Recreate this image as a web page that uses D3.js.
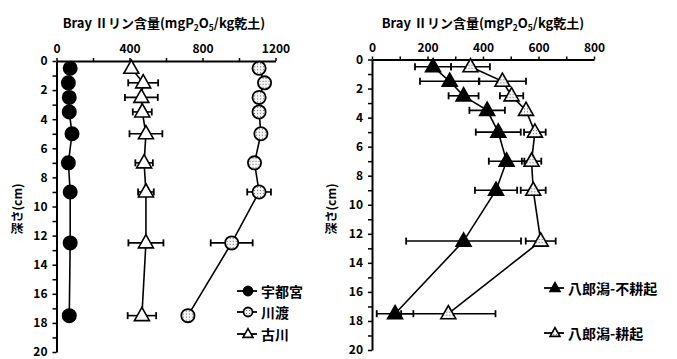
<!DOCTYPE html>
<html>
<head>
<meta charset="utf-8">
<script src="https://cdn.jsdelivr.net/npm/d3@7/dist/d3.min.js"></script>
<style>
  html, body { margin: 0; padding: 0; background: #fff; }
  svg { display: block; }
  text { font-family: "Noto Sans CJK JP", "Noto Sans", sans-serif; font-weight: 700; fill: #000; }
</style>
</head>
<body>
<svg id="chart" width="677" height="359"></svg>
<script>
// Soil depth of each sampling layer (cm)
const depths = [0.5, 1.5, 2.5, 3.5, 5, 7, 9, 12.5, 17.5];

// Left panel: Bray II phosphorus (mg P2O5 / kg dry soil)
const utsunomiya    = [75, 65, 70, 70, 85, 65, 75, 75, 70];
const utsunomiyaErr = [0, 0, 0, 0, 0, 0, 0, 0, 0];
const kawatabi      = [1110, 1140, 1110, 1110, 1120, 1085, 1110, 960, 720];
const kawatabiErr   = [0, 0, 0, 0, 0, 0, 65, 115, 0];
const furukawa      = [410, 475, 465, 470, 490, 480, 490, 490, 468];
const furukawaErr   = [0, 82, 90, 52, 90, 48, 43, 96, 78];

// Right panel: Hachirogata, no-tillage vs. tillage
const noTill    = [220, 280, 330, 415, 455, 485, 447, 330, 83];
const noTillErr = [65, 107, 54, 64, 81, 64, 76, 207, 66];
const till      = [355, 470, 503, 555, 587, 575, 581, 608, 275];
const tillErr   = [70, 85, 42, 0, 39, 35, 45, 54, 170];

// Axis ticks
const leftXTicks  = [0, 200, 400, 600, 800, 1000, 1200];
const rightXTicks = [0, 100, 200, 300, 400, 500, 600, 700, 800];
const depthTicks  = d3.range(0, 21, 1);

const titleMain = "Bray Ⅱリン含量(mgP";
const yTitle = "深さ(cm)";

const svg = d3.select("#chart");

// stippled fill for the open-dotted markers
const defs = svg.append("defs");
const pat = defs.append("pattern").attr("id", "stipple")
  .attr("patternUnits", "userSpaceOnUse").attr("width", 3).attr("height", 3);
pat.append("rect").attr("width", 3).attr("height", 3).attr("fill", "#f4f4f4");
pat.append("rect").attr("x", 1).attr("y", 1).attr("width", 1).attr("height", 1).attr("fill", "#6a6a6a");

function triPath(w) {
  const h = w * 0.88;
  return `M0,${-h * 0.62}L${w / 2},${h * 0.38}L${-w / 2},${h * 0.38}Z`;
}

function drawMarker(g, shape, fill, size) {
  if (shape === "circle") {
    return g.append("circle").attr("r", size).attr("fill", fill)
      .attr("stroke", "#000").attr("stroke-width", 1.8);
  }
  return g.append("path").attr("d", triPath(size)).attr("fill", fill)
    .attr("stroke", "#000").attr("stroke-width", 1.6).attr("stroke-linejoin", "miter");
}

function panel(opts) {
  const { x, y, xTicks, labelEvery, titleX, ylabX, series } = opts;
  const g = svg.append("g");

  // top axis
  const xAxis = d3.axisTop(x).tickValues(xTicks).tickSize(3).tickSizeOuter(0).tickPadding(4)
    .tickFormat(d => d % labelEvery === 0 ? d : "");
  const gx = g.append("g").attr("transform", `translate(0,${y(0)})`).call(xAxis);
  gx.select(".domain").attr("stroke-width", 2);
  gx.selectAll(".tick line").attr("stroke-width", 1.5);
  gx.selectAll(".tick text").attr("font-size", 12).attr("font-family", "'Noto Sans CJK JP'")
    .attr("font-weight", 700).attr("dy", "-0.05em");

  // left depth axis
  const yAxis = d3.axisLeft(y).tickValues(depthTicks).tickSize(4).tickSizeOuter(0).tickPadding(5)
    .tickFormat(d => d % 2 === 0 ? d : "");
  const gy = g.append("g").attr("transform", `translate(${x(0)},0)`).call(yAxis);
  gy.select(".domain").attr("stroke-width", 2);
  gy.selectAll(".tick line").attr("stroke-width", 1.5);
  gy.selectAll(".tick text").attr("font-size", 12).attr("font-family", "'Noto Sans CJK JP'")
    .attr("font-weight", 700);

  // title
  const t = g.append("text").attr("x", titleX).attr("y", 28).attr("text-anchor", "middle")
    .attr("font-size", 13);
  t.append("tspan").text(titleMain);
  t.append("tspan").attr("font-size", 8.5).attr("dy", 3).text("2");
  t.append("tspan").attr("dy", -3).text("O");
  t.append("tspan").attr("font-size", 8.5).attr("dy", 3).text("5");
  t.append("tspan").attr("dy", -3).text("/kg乾土)");

  // depth label
  g.append("text").attr("transform", `translate(${ylabX},209) rotate(-90)`)
    .attr("text-anchor", "middle").attr("dominant-baseline", "central")
    .attr("font-size", 12).text(yTitle);

  const line = d3.line().x(d => x(d.v)).y(d => y(d.d));

  series.forEach(s => {
    const pts = depths.map((d, i) => ({ d, v: s.values[i], e: s.err[i] }));
    const sg = g.append("g");
    sg.append("path").datum(pts).attr("d", line).attr("fill", "none")
      .attr("stroke", "#000").attr("stroke-width", 1.6);
    const eb = sg.selectAll(".eb").data(pts.filter(p => p.e > 0)).join("g");
    eb.append("line").attr("x1", p => x(p.v - p.e)).attr("x2", p => x(p.v + p.e))
      .attr("y1", p => y(p.d)).attr("y2", p => y(p.d)).attr("stroke", "#000").attr("stroke-width", 1.6);
    [-1, 1].forEach(sgn => {
      eb.append("line").attr("x1", p => x(p.v + sgn * p.e)).attr("x2", p => x(p.v + sgn * p.e))
        .attr("y1", p => y(p.d) - 3.5).attr("y2", p => y(p.d) + 3.5)
        .attr("stroke", "#000").attr("stroke-width", 1.8);
    });
  });
  series.forEach(s => {
    depths.forEach((d, i) => {
      const mg = g.append("g").attr("transform", `translate(${x(s.values[i])},${y(d)})`);
      drawMarker(mg, s.shape, s.fill, s.shape === "circle" ? 6.6 : 15);
    });
  });

  // legend
  series.forEach(s => {
    const lg = g.append("g").attr("transform", `translate(${s.legend[0]},${s.legend[1]})`);
    lg.append("line").attr("x1", 0).attr("x2", 20).attr("stroke", "#000").attr("stroke-width", 1.8);
    const mg = lg.append("g").attr("transform", `translate(11,0)`);
    drawMarker(mg, s.shape, s.fill, s.shape === "circle" ? 4.5 : 10);
    lg.append("text").attr("x", 24).attr("y", 0).attr("dominant-baseline", "central")
      .attr("font-size", 14).text(s.name);
  });
}

panel({
  x: d3.scaleLinear().domain([0, 1200]).range([56.5, 275.5]),
  y: d3.scaleLinear().domain([0, 20]).range([61, 352]),
  xTicks: leftXTicks, labelEvery: 400, titleX: 164, ylabX: 16,
  series: [
    { name: "宇都宮", values: utsunomiya, err: utsunomiyaErr, shape: "circle", fill: "#000", legend: [237, 291] },
    { name: "川渡", values: kawatabi, err: kawatabiErr, shape: "circle", fill: "url(#stipple)", legend: [237, 312] },
    { name: "古川", values: furukawa, err: furukawaErr, shape: "tri", fill: "#fff", legend: [237, 334] }
  ]
});

panel({
  x: d3.scaleLinear().domain([0, 800]).range([372, 594]),
  y: d3.scaleLinear().domain([0, 20]).range([59.5, 350]),
  xTicks: rightXTicks, labelEvery: 200, titleX: 483, ylabX: 330,
  series: [
    { name: "八郎潟-不耕起", values: noTill, err: noTillErr, shape: "tri", fill: "#000", legend: [544, 288] },
    { name: "八郎潟-耕起", values: till, err: tillErr, shape: "tri", fill: "url(#stipple)", legend: [544, 333] }
  ]
});
</script>
</body>
</html>
